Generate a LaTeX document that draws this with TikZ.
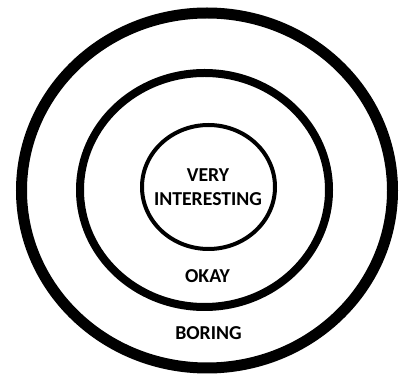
\documentclass[tikz,border=0pt]{standalone}
\usepackage{fontspec}
\setmainfont{Carlito}
\usetikzlibrary{shapes.geometric}
\begin{document}
\begin{tikzpicture}[x=0.75pt,y=-0.75pt,
  ring/.style={ellipse,draw=black,inner sep=0pt,fill=none},
  lbl/.style={font=\fontsize{14.8}{17.6}\selectfont\bfseries,align=center,inner sep=0pt,text=black}]
\useasboundingbox (0,0) rectangle (400,377);
\fill[white] (0,0) rectangle (400,377);
\node[ring,line width=8.25pt,minimum width=278.25pt,minimum height=266.25pt] (outer) at (207,190.5) {};
\node[ring,line width=6pt,minimum width=186.75pt,minimum height=175.5pt] (middle) at (204.5,190) {};
\node[ring,line width=3pt,minimum width=99.75pt,minimum height=93pt] (inner) at (208.5,187) {};
\node[lbl] (very) at (208,187) {VERY\\INTERESTING};
\node[lbl] (okay) at (207.5,276) {OKAY};
\node[lbl] (boring) at (208.5,333) {BORING};
\end{tikzpicture}
\end{document}
